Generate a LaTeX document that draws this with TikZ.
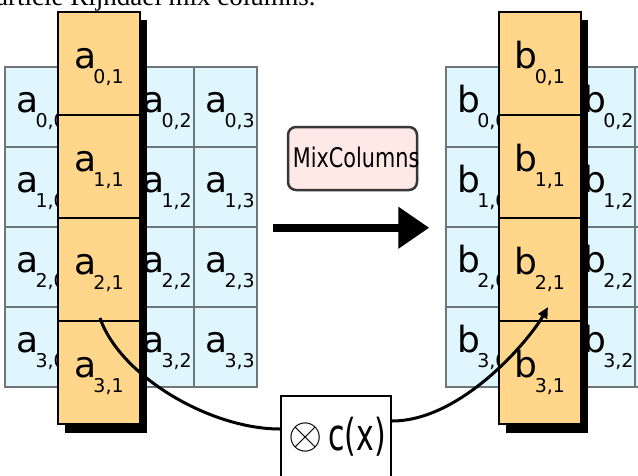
\documentclass[tikz,border=0pt]{standalone}
\usepackage{graphicx}
\usepackage{fontspec}
\setmainfont{DejaVu Sans}
\newfontfamily\captionserif{Liberation Serif}
\usetikzlibrary{arrows.meta}

\definecolor{cellblue}{RGB}{224,246,255}
\definecolor{cellorange}{RGB}{255,214,138}
\definecolor{boxpink}{RGB}{255,233,230}
\definecolor{gridgray}{RGB}{110,118,122}
\definecolor{boxgray}{RGB}{55,55,55}

% state element: letter with a low subscript
\newcommand{\elem}[2]{#1\kern-3pt\raisebox{-15pt}{\fontsize{19}{19}\selectfont #2}}

\begin{document}
\begin{tikzpicture}[x=1pt,y=-1pt]
    \tikzstyle{blue cell}=[draw=gridgray, line width=1.5pt, fill=cellblue, minimum width=63pt, minimum height=80pt, inner sep=0pt]
    \tikzstyle{orange cell}=[draw=black, line width=2pt, fill=cellorange, minimum width=82pt, minimum height=103pt, inner sep=0pt]
    \tikzstyle{lbl}=[inner sep=0pt, font=\fontsize{36}{36}\selectfont]
    \tikzstyle{curve}=[line width=3pt]

    \useasboundingbox (0,0) rectangle (638,475);
    \clip (0,0) rectangle (638,475);

    \node[anchor=base west, inner sep=0pt] (caption) at (-4,5.5) {\captionserif\fontsize{27}{27}\selectfont article Rijndael mix columns.};

    % the two states
    \foreach \r in {0,...,3} {
        \foreach \c in {0,...,3} {
            \node[blue cell] (a\r\c) at (36.5+63*\c, 107+80*\r) {};
            \node[blue cell] (b\r\c) at (477.5+63*\c, 107+80*\r) {};
        }
        \foreach \c in {0,2,3}
            \node[lbl, anchor=base west] at ([shift={(12,46)}]a\r\c.north west) {\elem{a}{\r,\c}};
        \foreach \c in {0,2}
            \node[lbl, anchor=base west] at ([shift={(12,46)}]b\r\c.north west) {\elem{b}{\r,\c}};
    }

    % highlighted column 1
    \fill (65,20) rectangle (147,433);
    \fill (506,20) rectangle (588,433);
    \foreach \r in {0,...,3} {
        \node[orange cell] (ha\r) at (99, 63.5+103*\r) {};
        \node[orange cell] (hb\r) at (540, 63.5+103*\r) {};
        \node[lbl, anchor=base] at ([shift={(0,57)}]ha\r.north) {\elem{a}{\r,1}};
        \node[lbl, anchor=base] at ([shift={(0,57)}]hb\r.north) {\elem{b}{\r,1}};
    }

    \node[draw=boxgray, line width=2.5pt, rounded corners=8pt, fill=boxpink, minimum width=129pt, minimum height=63pt] (mix) at (352.5,158.5) {};
    \node[anchor=base west, inner sep=0pt] (mixtext) at ([shift={(6,8.5)}]mix.west) {\fontsize{27}{27}\selectfont\scalebox{0.77}[1]{MixColumns}};

    \draw[line width=8pt, -{Triangle[length=31pt,width=40pt]}] ([shift={(15,0)}]a13.south east) -- ([shift={(-16,0)}]b10.south west);

    \node[draw=black, line width=2pt, fill=white, minimum width=110pt, minimum height=84pt] (cx) at (336,438) {};
    \node[inner sep=0pt] (otimes) at (305.5,437) {\scalebox{4.4}{$\otimes$}};
    \node[anchor=base west, inner sep=0pt] (cxtext) at (328,450) {\fontsize{44}{44}\selectfont\scalebox{0.68}[1]{c(x)}};

    \draw[curve] ([shift={(1,-4)}]ha2.south) .. controls +(20,58) and +(-70,0) .. ([shift={(0,-9)}]cx.west);
    \draw[curve, -{Triangle[length=11pt,width=10pt]}] ([shift={(0,-17)}]cx.east) .. controls +(70,0) and +(-18,32) .. ([shift={(8,-15)}]hb2.south);
\end{tikzpicture}
\end{document}
